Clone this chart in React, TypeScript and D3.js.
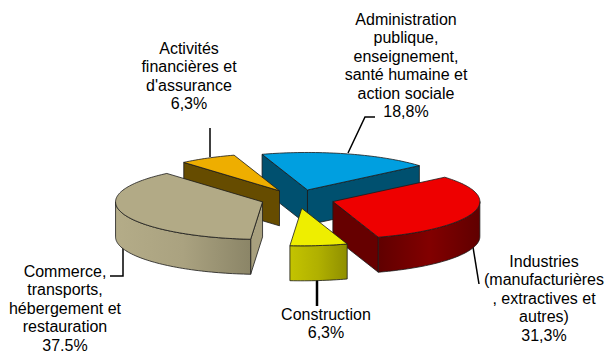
import React from 'react';
import * as d3 from 'd3';

// constants
const width = 605;
const height = 351;
const cx = 297.5;
const cy = 199;
const rx = 147;
const ry = 37.5;
const explode = 0.25;
const depth = 35;
const startDeg = -18;

const categories = [
  ['Administration', 'publique,', 'enseignement,', 'santé humaine et', 'action sociale'],
  ['Industries', '(manufacturières', ', extractives et', 'autres)'],
  ['Construction'],
  ['Commerce,', 'transports,', 'hébergement et', 'restauration'],
  ['Activités', 'financières et', "d'assurance"],
];
const values = [18.8, 31.3, 6.3, 37.5, 6.3];

const topColours = ['#009fe0', '#ee0000', '#eeee00', '#b2aa86', '#eeae00'];
const wallColours = ['#00506f', '#660000', '#a8a800', '#a8a07e', '#664c00'];
const outerStops = [
  ['#00506f', '#00506f'],
  ['#600000', '#820000', '#600000'],
  ['#c4c400', '#b0b000', '#8f8f00'],
  ['#b4ac88', '#aaa280', '#8b8567'],
  ['#664c00', '#664c00'],
];

// text anchor + first baseline for each label, and its leader line
const labelX = [406, 544, 326, 65, 189];
const labelY = [25, 267, 320, 277, 54];
const lineHeight = 18.4;
const leaders = [
  [[348, 153], [365, 117], [375, 117]],
  [[473, 247], [479, 284]],
  [[317, 280], [317, 306]],
  [[123, 248], [123, 276], [110, 276]],
  [[210, 157], [210, 128]],
];

const drawOrder = [0, 4, 3, 1, 2];

const pie = d3.pie<number>()
  .sort(null)
  .startAngle((startDeg * Math.PI) / 180)
  .endAngle((startDeg * Math.PI) / 180 + 2 * Math.PI);

const line = d3.line();

const App = () => {
  const arcs = pie(values);

  const slices = drawOrder.map((i) => {
    const { startAngle: a0, endAngle: a1 } = arcs[i];
    const mid = (a0 + a1) / 2;
    const ox = cx + rx * explode * Math.sin(mid);
    const oy = cy - ry * explode * Math.cos(mid);
    const pt = (a: number, dy = 0): [number, number] => [
      ox + rx * Math.sin(a),
      oy - ry * Math.cos(a) + dy,
    ];
    const sample = (from: number, to: number) => {
      const n = Math.max(2, Math.ceil((to - from) * 40));
      return d3.range(n + 1).map((k) => from + ((to - from) * k) / n);
    };
    const apex: [number, number] = [ox, oy];
    const apexLow: [number, number] = [ox, oy + depth];

    const top = line([apex, ...sample(a0, a1).map((a) => pt(a))]) + 'Z';
    const wall = (a: number) => line([apex, pt(a), pt(a, depth), apexLow]) + 'Z';

    // outer rim only shows on the near half of the ellipse
    const rimFrom = Math.max(a0, Math.PI / 2);
    const rimTo = Math.min(a1, (3 * Math.PI) / 2);
    const rimAngles = rimTo > rimFrom ? sample(rimFrom, rimTo) : null;
    const rim = rimAngles
      ? line([
          ...rimAngles.map((a) => pt(a)),
          ...rimAngles.slice().reverse().map((a) => pt(a, depth)),
        ]) + 'Z'
      : null;

    return {
      i,
      top,
      rim,
      startWall: Math.sin(a0) < 0 ? wall(a0) : null,
      endWall: Math.sin(a1) > 0 ? wall(a1) : null,
    };
  });

  const edge = { stroke: '#1a1a1a', strokeWidth: 0.8, strokeLinejoin: 'round' as const };

  return (
    <svg
      width={width}
      height={height}
      style={{ position: 'absolute', left: 0, top: 0, background: '#fff' }}
      fontFamily="'Liberation Sans', Arial, sans-serif"
      fontSize={16}
    >
      <defs>
        {outerStops.map((stops, i) => (
          <linearGradient key={i} id={`rim${i}`} x1="0" x2="1" y1="0" y2="0">
            {stops.map((c, k) => (
              <stop key={k} offset={k / (stops.length - 1)} stopColor={c} />
            ))}
          </linearGradient>
        ))}
      </defs>

      {leaders.map((pts, i) => (
        <path
          key={i}
          d={line(pts as [number, number][]) as string}
          fill="none"
          stroke="#000"
          strokeWidth={i === 2 ? 2.5 : 1.5}
        />
      ))}

      {slices.map((s) => (
        <g key={s.i}>
          {s.startWall && <path d={s.startWall} fill={wallColours[s.i]} {...edge} />}
          {s.endWall && <path d={s.endWall} fill={wallColours[s.i]} {...edge} />}
          {s.rim && <path d={s.rim} fill={`url(#rim${s.i})`} {...edge} />}
          <path d={s.top} fill={topColours[s.i]} {...edge} />
        </g>
      ))}

      {categories.map((lines, i) => (
        <text key={i} textAnchor="middle" fill="#000">
          {[...lines, `${values[i].toFixed(1).replace('.', ',')}%`].map((t, k) => (
            <tspan key={k} x={labelX[i]} y={labelY[i] + k * lineHeight}>
              {t}
            </tspan>
          ))}
        </text>
      ))}
    </svg>
  );
};

export default App;
